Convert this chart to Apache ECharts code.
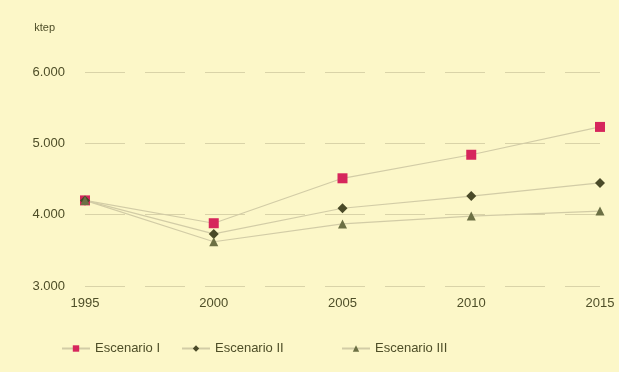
<!DOCTYPE html>
<html>
<head>
<meta charset="utf-8">
<script src="https://cdn.jsdelivr.net/npm/echarts@6/dist/echarts.min.js"></script>
<style>
html,body{margin:0;padding:0;background:#fcf7c8;}
#c{width:619px;height:372px;}
</style>
</head>
<body>
<div id="c"></div>
<script>
var years = [1995, 2000, 2005, 2010, 2015];
var escenarioI = [4200, 3880, 4510, 4840, 5230];
var escenarioII = [4200, 3730, 4090, 4260, 4445];
var escenarioIII = [4200, 3620, 3870, 3980, 4050];
var seriesNames = ['Escenario I', 'Escenario II', 'Escenario III'];

function pairs(vals){ return years.map(function(y,i){ return [y, vals[i]]; }); }

var chart = echarts.init(document.getElementById('c'));
var txt = '#4e4e28';
var font = 'Liberation Sans';
var legendText = {color: txt, fontFamily: font, fontSize: 13};
function leg(name, left){
  return {bottom: 12, left: left, itemWidth: 28, itemHeight: 8, itemGap: 10,
    textStyle: legendText, data: [name]};
}
chart.setOption({
  backgroundColor: '#fcf7c8',
  animation: false,
  grid: {left: 85, right: 19, top: 72, bottom: 86},
  xAxis: {
    type: 'value', min: 1995, max: 2015, interval: 5,
    axisLine: {show: false}, axisTick: {show: false}, splitLine: {show: false},
    axisLabel: {color: txt, fontFamily: font, fontSize: 13, margin: 11,
      formatter: function(v){ return String(v); }}
  },
  yAxis: {
    type: 'value', min: 3000, max: 6000, interval: 1000,
    name: 'ktep', nameLocation: 'end', nameGap: 39,
    nameTextStyle: {color: txt, fontFamily: font, fontSize: 11, align: 'right', padding: [0, 30, 0, 0]},
    axisLine: {show: false}, axisTick: {show: false},
    splitLine: {lineStyle: {color: '#d9d3a8', type: [40, 20], width: 1}},
    axisLabel: {color: txt, fontFamily: font, fontSize: 13, margin: 20,
      formatter: function(v){ return String(v/1000) + '.000'; }}
  },
  legend: [leg(seriesNames[0], 56), leg(seriesNames[1], 176), leg(seriesNames[2], 336)],
  series: [
    {name: seriesNames[0], type: 'line', data: pairs(escenarioI), symbol: 'rect', symbolSize: 10,
      itemStyle: {color: '#d6265c'}, lineStyle: {color: '#d2cca6', width: 1.2}},
    {name: seriesNames[1], type: 'line', data: pairs(escenarioII), symbol: 'diamond', symbolSize: 10,
      itemStyle: {color: '#4a4a28'}, lineStyle: {color: '#d2cca6', width: 1.2}},
    {name: seriesNames[2], type: 'line', data: pairs(escenarioIII), symbol: 'triangle', symbolSize: 9,
      itemStyle: {color: '#6c7044'}, lineStyle: {color: '#d2cca6', width: 1.2}}
  ]
});
</script>
</body>
</html>
